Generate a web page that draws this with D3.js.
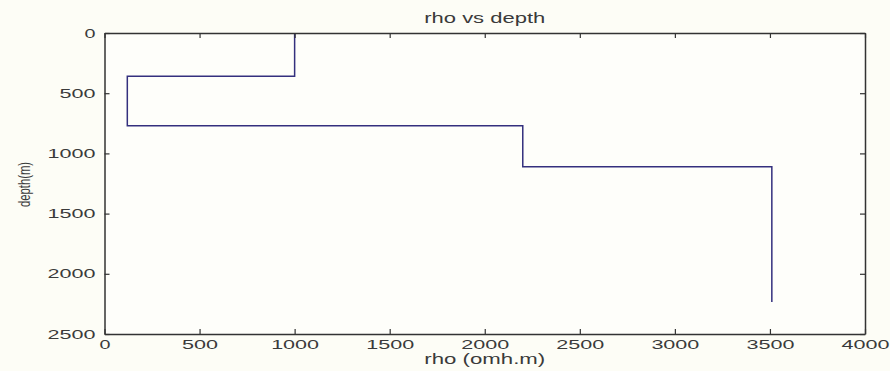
<!DOCTYPE html>
<html>
<head>
<meta charset="utf-8">
<script src="https://cdn.jsdelivr.net/npm/d3@7"></script>
<style>
  html, body { margin: 0; padding: 0; background: #fdfdf6; }
  svg { display: block; }
  text { font-family: "Liberation Sans", Arial, sans-serif; fill: #3a3a3a; }
</style>
</head>
<body>
<svg id="chart" width="890" height="371"></svg>
<script>
// Layered resistivity model: each layer has a resistivity and a bottom depth
const rhoValues = [1000, 120, 2200, 3510];
const layerTops = [0, 360, 770, 1110];
const layerBottoms = [360, 770, 1110, 2235];
const xTicks = [0, 500, 1000, 1500, 2000, 2500, 3000, 3500, 4000];
const yTicks = [0, 500, 1000, 1500, 2000, 2500];

const svg = d3.select("#chart");
const W = 890, H = 371;
const m = { left: 104.5, right: 25, top: 33, bottom: 37 };

svg.append("rect").attr("width", W).attr("height", H).attr("fill", "#fdfdf6");

const x = d3.scaleLinear().domain([0, 4000]).range([m.left, W - m.right]);
const y = d3.scaleLinear().domain([0, 2500]).range([m.top, H - m.bottom]);

// Plot area
svg.append("rect")
  .attr("x", x(0)).attr("y", y(0))
  .attr("width", x(4000) - x(0)).attr("height", y(2500) - y(0))
  .attr("fill", "#fefefa");

// Step profile: vertical segment through each layer, horizontal jump at each boundary
const pts = [];
rhoValues.forEach((r, i) => {
  pts.push([r, layerTops[i]]);
  pts.push([r, layerBottoms[i]]);
});
const line = d3.line().x(d => x(d[0])).y(d => y(d[1]));
svg.append("path")
  .datum(pts)
  .attr("d", line)
  .attr("fill", "none")
  .attr("stroke", "#34307e")
  .attr("stroke-width", 1.5);

// Wide, flat labels: stretch each string to ~12px per character
const widen = (sel, per) => sel
  .attr("font-size", 13)
  .attr("lengthAdjust", "spacingAndGlyphs")
  .attr("textLength", function () { const n = this.textContent.length; return n === 1 ? 11 : n * per; });

const fmt = d3.format("d");
const tickLen = 5;
const axisStyle = g => {
  g.select(".domain").attr("stroke", "#333").attr("stroke-width", 1.5);
  g.selectAll(".tick line").attr("stroke", "#333").attr("stroke-width", 1.2);
  g.selectAll(".tick text").attr("fill", "#3a3a3a")
    .style("font-family", "'Liberation Sans', Arial, sans-serif")
    .call(widen, 12);
};

svg.append("g")
  .attr("transform", `translate(0,${y(2500)})`)
  .call(d3.axisBottom(x).tickValues(xTicks).tickFormat(fmt).tickSize(-tickLen).tickPadding(5).tickSizeOuter(0))
  .call(axisStyle)
  .call(g => g.selectAll(".tick text").attr("dy", "0.75em"));

svg.append("g")
  .attr("transform", `translate(0,${y(0)})`)
  .call(d3.axisTop(x).tickValues(xTicks).tickSize(-tickLen).tickFormat("").tickSizeOuter(0))
  .call(axisStyle);

svg.append("g")
  .attr("transform", `translate(${x(0)},0)`)
  .call(d3.axisLeft(y).tickValues(yTicks).tickFormat(fmt).tickSize(-tickLen).tickPadding(9).tickSizeOuter(0))
  .call(axisStyle);

svg.append("g")
  .attr("transform", `translate(${x(4000)},0)`)
  .call(d3.axisRight(y).tickValues(yTicks).tickSize(-tickLen).tickFormat("").tickSizeOuter(0))
  .call(axisStyle);

// Titles
svg.append("text")
  .attr("x", (x(0) + x(4000)) / 2).attr("y", 23)
  .attr("text-anchor", "middle").attr("font-size", 14)
  .attr("lengthAdjust", "spacingAndGlyphs").attr("textLength", 121)
  .text("rho vs depth");

svg.append("text")
  .attr("x", (x(0) + x(4000)) / 2).attr("y", 364)
  .attr("text-anchor", "middle").attr("font-size", 14)
  .attr("lengthAdjust", "spacingAndGlyphs").attr("textLength", 121)
  .text("rho (omh.m)");

svg.append("text")
  .attr("transform", `translate(30,${(y(0) + y(2500)) / 2 + 1}) rotate(-90)`)
  .attr("text-anchor", "middle").attr("font-size", 16)
  .attr("lengthAdjust", "spacingAndGlyphs").attr("textLength", 45)
  .text("depth(m)");
</script>
</body>
</html>
